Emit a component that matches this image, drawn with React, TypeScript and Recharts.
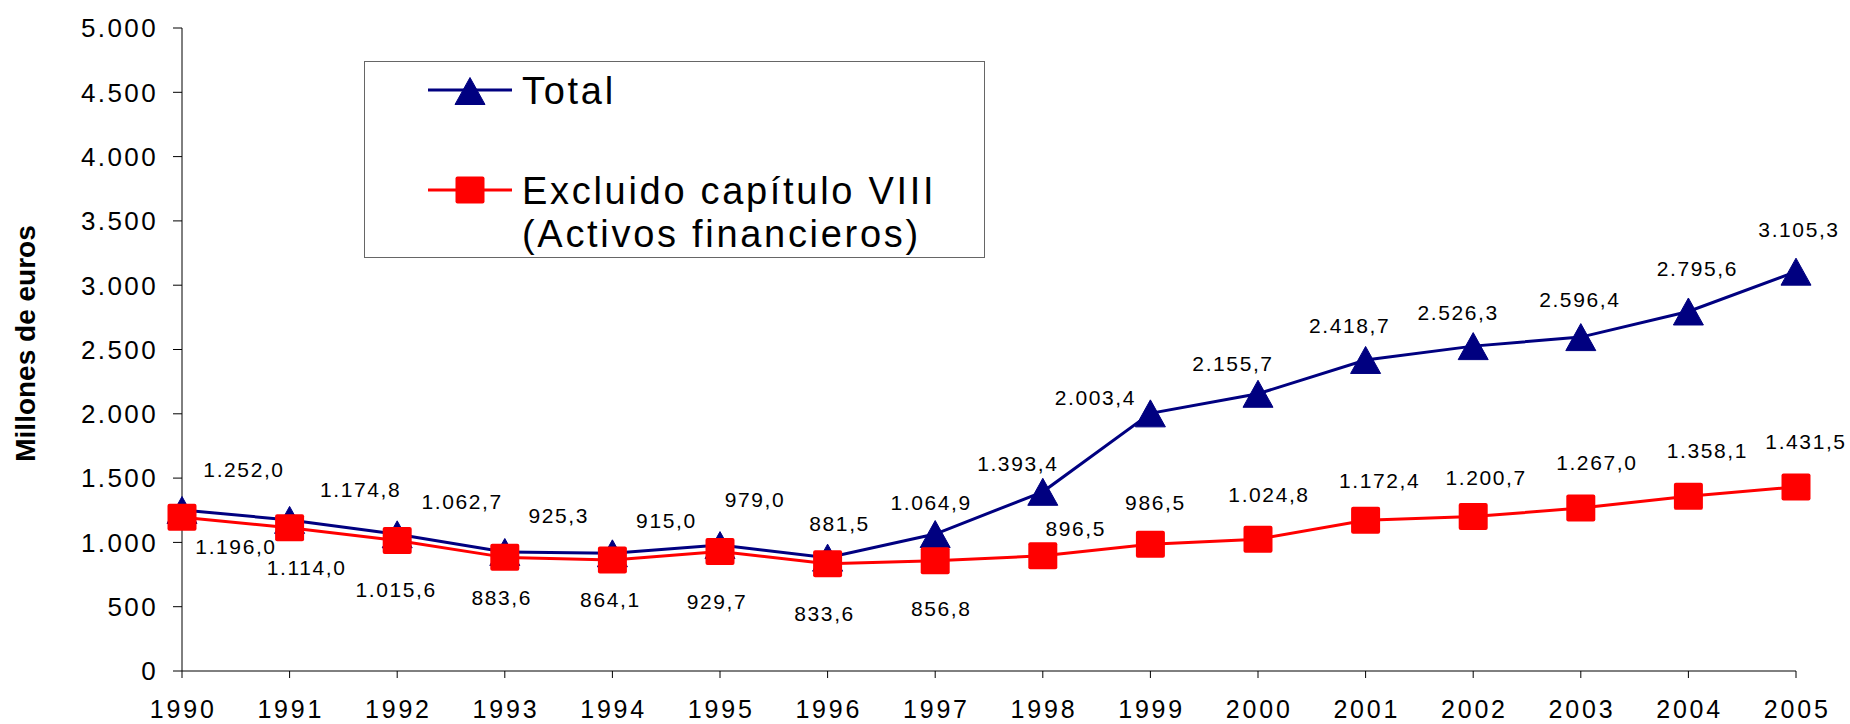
import React from 'react';
import { LineChart, Line, XAxis, YAxis, Legend, LabelList } from 'recharts';

const years = ['1990', '1991', '1992', '1993', '1994', '1995', '1996', '1997', '1998', '1999', '2000', '2001', '2002', '2003', '2004', '2005'];
const totalValues = [1252.0, 1174.8, 1062.7, 925.3, 915.0, 979.0, 881.5, 1064.9, 1393.4, 2003.4, 2155.7, 2418.7, 2526.3, 2596.4, 2795.6, 3105.3];
const excludedValues = [1196.0, 1114.0, 1015.6, 883.6, 864.1, 929.7, 833.6, 856.8, 896.5, 986.5, 1024.8, 1172.4, 1200.7, 1267.0, 1358.1, 1431.5];
const yTicks = [0, 500, 1000, 1500, 2000, 2500, 3000, 3500, 4000, 4500, 5000];
const seriesOrder = ['total', 'excluded'];

// where each value label sits relative to its marker (px)
const totalLabelOffsets = [[61, -40], [70, -30], [64, -33], [53, -37], [53, -33], [34, -46], [11, -34], [-5, -32], [-26, -28], [-56, -16], [-26, -30], [-17, -34], [-16, -34], [-2, -38], [8, -43], [2, -42]];
const excludedLabelOffsets = [[53, 29], [16, 40], [-2, 49], [-4, 40], [-3, 40], [-4, 50], [-4, 50], [5, 48], [32, -27], [4, -42], [10, -45], [13, -40], [12, -39], [15, -46], [18, -46], [9, -45]];

const data = years.map((year, i) => ({ year, total: totalValues[i], excluded: excludedValues[i] }));

const FONT = '"Liberation Sans", Arial, sans-serif';
const NAVY = '#000080';
const RED = '#ff0000';

const thousands = (n: number) => String(n).replace(/\B(?=(\d{3})+(?!\d))/g, '.');
const formatValue = (v: number) => {
  const [int, dec] = v.toFixed(1).split('.');
  return `${thousands(Number(int))},${dec}`;
};

const Triangle = ({ cx, cy }: any) => {
  if (cx == null || cy == null) return null;
  return (
    <polygon
      points={`${cx},${cy - 13.5} ${cx - 15},${cy + 13.5} ${cx + 15},${cy + 13.5}`}
      fill={NAVY}
      stroke={NAVY}
      strokeLinejoin="round"
    />
  );
};

const Square = ({ cx, cy }: any) => {
  if (cx == null || cy == null) return null;
  return <rect x={cx - 14.5} y={cy - 13.5} width={29} height={27} rx={2} fill={RED} />;
};

const makeLabel = (offsets: number[][]) => (props: any) => {
  const { x, y, value, index } = props;
  const [dx, dy] = offsets[index] || [0, -30];
  return (
    <text
      x={x + dx + 1}
      y={y + dy}
      textAnchor="middle"
      dominantBaseline="central"
      fontFamily={FONT}
      fontSize={21}
      letterSpacing={1.6}
      fill="#000"
    >
      {formatValue(value)}
    </text>
  );
};

const XTick = ({ x, y, payload }: any) => (
  <text x={x + 1.2} y={y} dy="0.71em" textAnchor="middle" fontFamily={FONT} fontSize={25} letterSpacing={2.8} fill="#000">
    {payload.value}
  </text>
);

const YTick = ({ x, y, payload }: any) => (
  <text x={x} y={y} dy="0.36em" textAnchor="end" fontFamily={FONT} fontSize={26} letterSpacing={2.4} fill="#000">
    {thousands(payload.value)}
  </text>
);

const YLabel = ({ viewBox }: any) => {
  const cy = viewBox.y + viewBox.height / 2 - 6;
  return (
    <text
      transform={`translate(35, ${cy}) rotate(-90)`}
      textAnchor="middle"
      fontFamily={FONT}
      fontWeight="bold"
      fontSize={28}
      fill="#000"
    >
      Millones de euros
    </text>
  );
};

const LegendBox = ({ payload }: any) => {
  const items = [...(payload || [])].sort(
    (a: any, b: any) => seriesOrder.indexOf(a.dataKey) - seriesOrder.indexOf(b.dataKey)
  );
  return (
    <div style={{ width: 621, height: 197, border: '1px solid #666', boxSizing: 'border-box', background: '#fff' }}>
      <svg width={619} height={195}>
        {items.map((item: any, i: number) => {
          const cy = i === 0 ? 28 : 128;
          const parts = String(item.value).split(' (');
          return (
            <g key={item.dataKey}>
              <line x1={63} x2={147} y1={cy} y2={cy} stroke={item.color} strokeWidth={3} />
              {item.dataKey === 'total' ? <Triangle cx={105} cy={cy + 1} /> : <Square cx={105} cy={cy} />}
              <text x={157} y={cy + 14} fontFamily={FONT} fontSize={38} letterSpacing={2.7} fill="#000">
                {parts[0]}
              </text>
              {parts[1] && (
                <text x={157} y={cy + 57} fontFamily={FONT} fontSize={38} letterSpacing={2.7} fill="#000">
                  {`(${parts[1]}`}
                </text>
              )}
            </g>
          );
        })}
      </svg>
    </div>
  );
};

export default function App() {
  return (
    <div style={{ position: 'absolute', left: 0, top: 0, width: 1850, height: 724, background: '#fff' }}>
      <LineChart width={1850} height={724} data={data} margin={{ top: 28, right: 54, left: 0, bottom: 0 }}>
        <XAxis
          dataKey="year"
          height={53}
          interval={0}
          tickSize={7}
          tickMargin={22}
          stroke="#000"
          tick={<XTick />}
        />
        <YAxis
          width={182}
          domain={[0, 5000]}
          ticks={yTicks}
          tickSize={9}
          tickMargin={15}
          stroke="#000"
          tick={<YTick />}
          label={{ content: YLabel }}
        />
        <Legend
          layout="horizontal"
          verticalAlign="middle"
          align="center"
          content={LegendBox}
          wrapperStyle={{ position: 'absolute', left: 364, top: 61, width: 621, height: 197 }}
        />
        <Line
          dataKey="total"
          name="Total"
          stroke={NAVY}
          strokeWidth={3}
          dot={<Triangle />}
          activeDot={false}
          isAnimationActive={false}
        >
          <LabelList dataKey="total" content={makeLabel(totalLabelOffsets)} />
        </Line>
        <Line
          dataKey="excluded"
          name="Excluido capítulo VIII (Activos financieros)"
          stroke={RED}
          strokeWidth={3}
          dot={<Square />}
          activeDot={false}
          isAnimationActive={false}
        >
          <LabelList dataKey="excluded" content={makeLabel(excludedLabelOffsets)} />
        </Line>
      </LineChart>
    </div>
  );
}
